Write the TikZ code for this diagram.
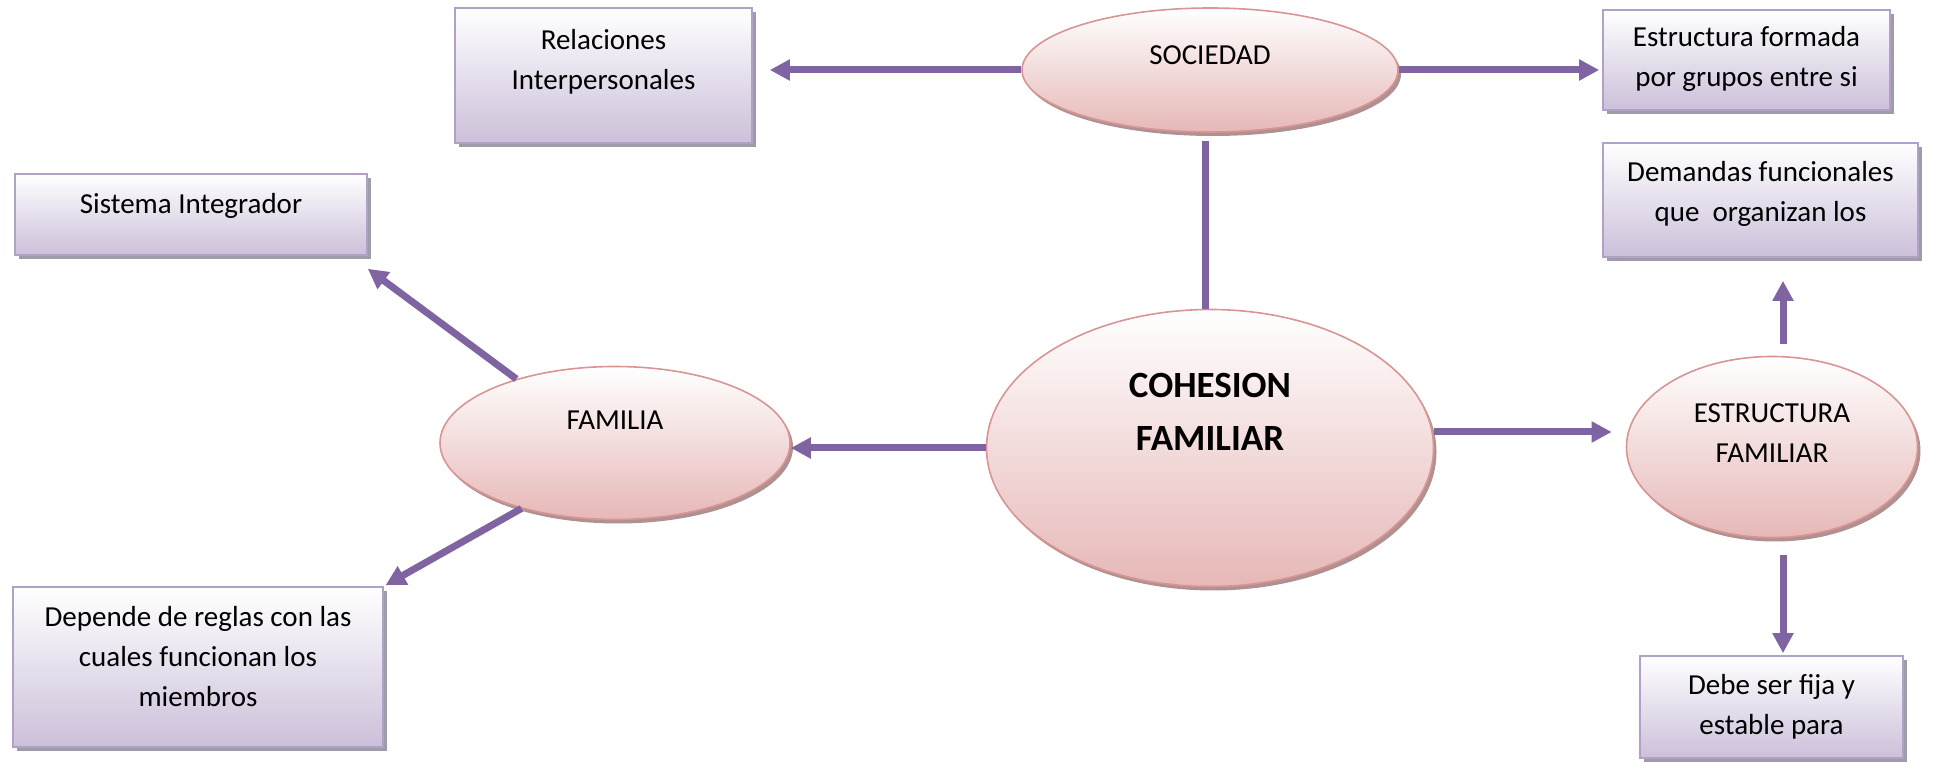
\documentclass[tikz,border=0pt]{standalone}
\usepackage{fontspec}
\setmainfont{Carlito}
\usepackage{xcolor}
\usetikzlibrary{arrows.meta,shapes.geometric,shadows,positioning}
\definecolor{morado}{RGB}{128,100,162}
\definecolor{bordeRosa}{RGB}{217,149,148}
\definecolor{rosa}{RGB}{230,184,183}
\definecolor{sombraRosa}{RGB}{175,145,145}
\definecolor{bordeLila}{RGB}{178,161,199}
\definecolor{lila}{RGB}{204,192,218}
\definecolor{sombraLila}{RGB}{160,155,168}

\begin{document}
\begin{tikzpicture}[x=0.5pt,y=-0.5pt,
  ovalo/.style={ellipse, draw=bordeRosa, line width=0.8pt, top color=white, bottom color=rosa,
    drop shadow={shadow xshift=1.5pt, shadow yshift=-2pt, fill=sombraRosa, opacity=1}, inner sep=0pt},
  caja/.style={rectangle, draw=bordeLila, line width=0.8pt, top color=white, bottom color=lila,
    drop shadow={shadow xshift=2pt, shadow yshift=-2pt, fill=sombraLila, opacity=1}, inner sep=0pt},
  texto/.style={align=center, font=\fontsize{14.5}{20}\selectfont, inner sep=0pt},
  flecha/.style={draw=morado, line width=3.5pt, -{Triangle[length=10pt,width=10pt]}},
  linea/.style={draw=morado, line width=3.5pt}]
\useasboundingbox (0,0) rectangle (1935,764);

% ovalos
\node[ovalo, minimum width=188pt, minimum height=62pt] (soc) at (1210,70) {};
\node[texto] (socT) at ([yshift=7.5pt]soc.center) {SOCIEDAD};
\node[ovalo, minimum width=223.5pt, minimum height=138.5pt] (coh) at (1210,448) {};
\node[texto, font=\fontsize{18.5}{26.5}\selectfont\bfseries] (cohT) at ([yshift=18pt]coh.center) {COHESION\\FAMILIAR};
\node[ovalo, minimum width=175pt, minimum height=76.5pt] (fam) at (615,443) {};
\node[texto] (famT) at ([yshift=11.5pt]fam.center) {FAMILIA};
\node[ovalo, minimum width=145.5pt, minimum height=90.5pt] (est) at (1772,447) {};
\node[texto] (estT) at ([yshift=7pt]est.center) {ESTRUCTURA\\FAMILIAR};

% cajas
\node[caja, minimum width=148.5pt, minimum height=67.5pt] (rel) at (603.5,75.5) {};
\node[texto] (relT) at ([yshift=7pt]rel.center) {Relaciones\\Interpersonales};
\node[caja, minimum width=143.5pt, minimum height=50pt] (efo) at (1746.5,60) {};
\node[texto] (efoT) at ([yshift=0.5pt]efo.center) {Estructura formada\\por grupos entre si};
\node[caja, minimum width=157.5pt, minimum height=57pt] (dem) at (1760.5,200) {};
\node[texto] (demT) at ([yshift=3pt]dem.center) {Demandas funcionales\\que\ \ organizan los};
\node[caja, minimum width=176pt, minimum height=40.5pt] (sis) at (191,214.5) {};
\node[texto] (sisT) at ([yshift=4.5pt]sis.center) {Sistema Integrador};
\node[caja, minimum width=185pt, minimum height=80pt] (dep) at (198,667) {};
\node[texto] (depT) at ([yshift=5pt]dep.center) {Depende de reglas con las\\cuales funcionan los\\miembros};
\node[caja, minimum width=131.5pt, minimum height=51pt] (deb) at (1771.5,707) {};
\node[texto] (debT) at (deb.center) {Debe ser fija y\\estable para};

% conectores
\draw[flecha, shorten >=8.5pt] (soc.west) -- (soc.west -| rel.east);
\draw[flecha, shorten >=1.5pt] (soc.east) -- (soc.east -| efo.west);
\draw[linea, shorten <=4pt] ([xshift=-2.5pt]soc.south) -- ([xshift=-2.5pt]coh.north);
\draw[flecha] (coh.west) -- (coh.west -| fam.east);
\draw[flecha, shorten >=7pt] ([yshift=8pt]coh.east) -- ([yshift=8pt]coh.east -| est.west);
\draw[flecha, shorten <=6pt, shorten >=11.5pt] ([xshift=5.5pt]est.north) -- ([xshift=5.5pt]est.north |- dem.south);
\draw[flecha, shorten <=8.5pt, shorten >=1pt] ([xshift=5.5pt]est.south) -- ([xshift=5.5pt]est.south |- deb.north);
\draw[flecha] (fam.147) -- ([yshift=-6.5pt]sis.south east);
\draw[flecha, shorten >=1pt] (fam.215) -- (dep.north east);
\end{tikzpicture}
\end{document}
